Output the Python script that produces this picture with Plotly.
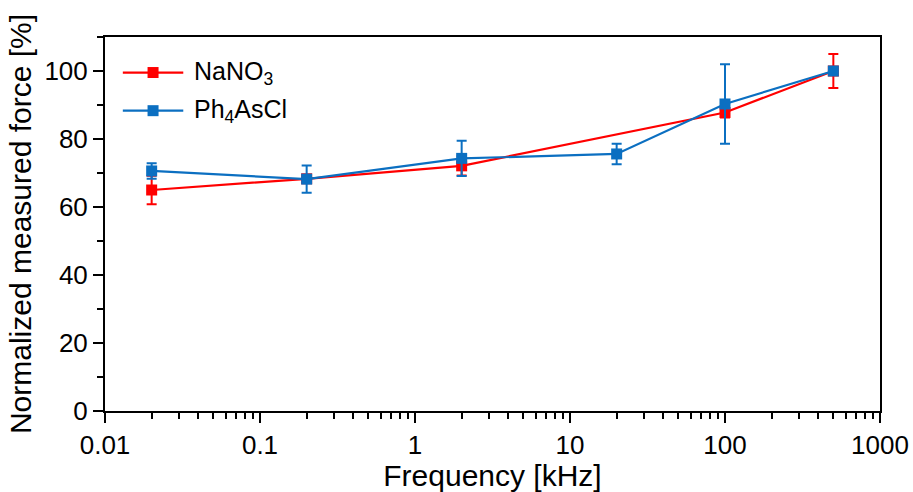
import plotly.graph_objects as go

# Frequencies in kHz
freq_nano3 = [0.02, 0.2, 2, 100, 500]
force_nano3 = [65.0, 68.3, 72.1, 87.8, 100.0]
err_nano3 = [4.2, 1.0, 2.8, 1.5, 5.0]

freq_ph4ascl = [0.02, 0.2, 2, 20, 100, 500]
force_ph4ascl = [70.6, 68.2, 74.3, 75.6, 90.3, 100.0]
err_ph4ascl = [2.3, 4.0, 5.2, 3.0, 11.7, 0.0]

series_names = ["NaNO<sub>3</sub>", "Ph<sub>4</sub>AsCl"]
series_colors = ["#FF0000", "#0B6FC1"]

y_ticks = [0, 20, 40, 60, 80, 100]
x_tickvals = [0.01, 0.1, 1, 10, 100, 1000]
x_ticktext = ["0.01", "0.1", "1", "10", "100", "1000"]

FONT = "Liberation Sans, Arial, sans-serif"

fig = go.Figure()

for name, color, xs, ys, es in [
    (series_names[0], series_colors[0], freq_nano3, force_nano3, err_nano3),
    (series_names[1], series_colors[1], freq_ph4ascl, force_ph4ascl, err_ph4ascl),
]:
    fig.add_trace(go.Scatter(
        x=xs, y=ys, name=name, mode="lines+markers",
        line=dict(color=color, width=2.2),
        marker=dict(symbol="square", size=11, color=color),
        error_y=dict(type="data", array=es, visible=True,
                     color=color, thickness=2, width=5),
        showlegend=False,
    ))

# Legend drawn in paper coordinates: line sample, square marker and label
legend_rows = [(0.905, series_names[0], series_colors[0]),
               (0.803, series_names[1], series_colors[1])]
x0, x1 = 0.023, 0.101
for ypos, name, color in legend_rows:
    fig.add_shape(type="line", xref="paper", yref="paper",
                  x0=x0, x1=x1, y0=ypos, y1=ypos,
                  line=dict(color=color, width=2.2))
    xm = (x0 + x1) / 2
    fig.add_shape(type="rect", xref="paper", yref="paper",
                  x0=xm - 0.0071, x1=xm + 0.0071,
                  y0=ypos - 0.0147, y1=ypos + 0.0147,
                  fillcolor=color, line=dict(width=0))
    fig.add_annotation(xref="paper", yref="paper", x=0.112, y=ypos,
                       text=name, showarrow=False, xanchor="left",
                       yanchor="middle",
                       font=dict(family=FONT, size=25, color="black"))

fig.update_layout(
    width=913, height=492,
    margin=dict(l=105, r=33, t=37, b=81),
    paper_bgcolor="white", plot_bgcolor="white",
    font=dict(family=FONT, size=26, color="black"),
)

fig.update_xaxes(
    type="log", range=[-2, 3], automargin=False,
    tickvals=x_tickvals, ticktext=x_ticktext,
    ticks="outside", ticklen=10, tickwidth=2, tickcolor="black",
    minor=dict(ticks="outside", ticklen=6, tickwidth=2, tickcolor="black",
               dtick="D1", showgrid=False),
    showline=True, linewidth=2, linecolor="black", mirror=True,
    showgrid=False, zeroline=False,
    tickfont=dict(size=26),
    title=dict(text="Frequency [kHz]", font=dict(size=30), standoff=6),
)

fig.update_yaxes(
    range=[0, 110], automargin=False,
    tickvals=y_ticks,
    ticks="outside", ticklen=10, tickwidth=2, tickcolor="black",
    minor=dict(ticks="outside", ticklen=6, tickwidth=2, tickcolor="black",
               dtick=10, tick0=0, showgrid=False),
    showline=True, linewidth=2, linecolor="black", mirror=True,
    showgrid=False, zeroline=False,
    tickfont=dict(size=26),
    title=dict(text="Normalized measured force [%]", font=dict(size=30),
               standoff=4),
)

fig.write_html("out.html")
